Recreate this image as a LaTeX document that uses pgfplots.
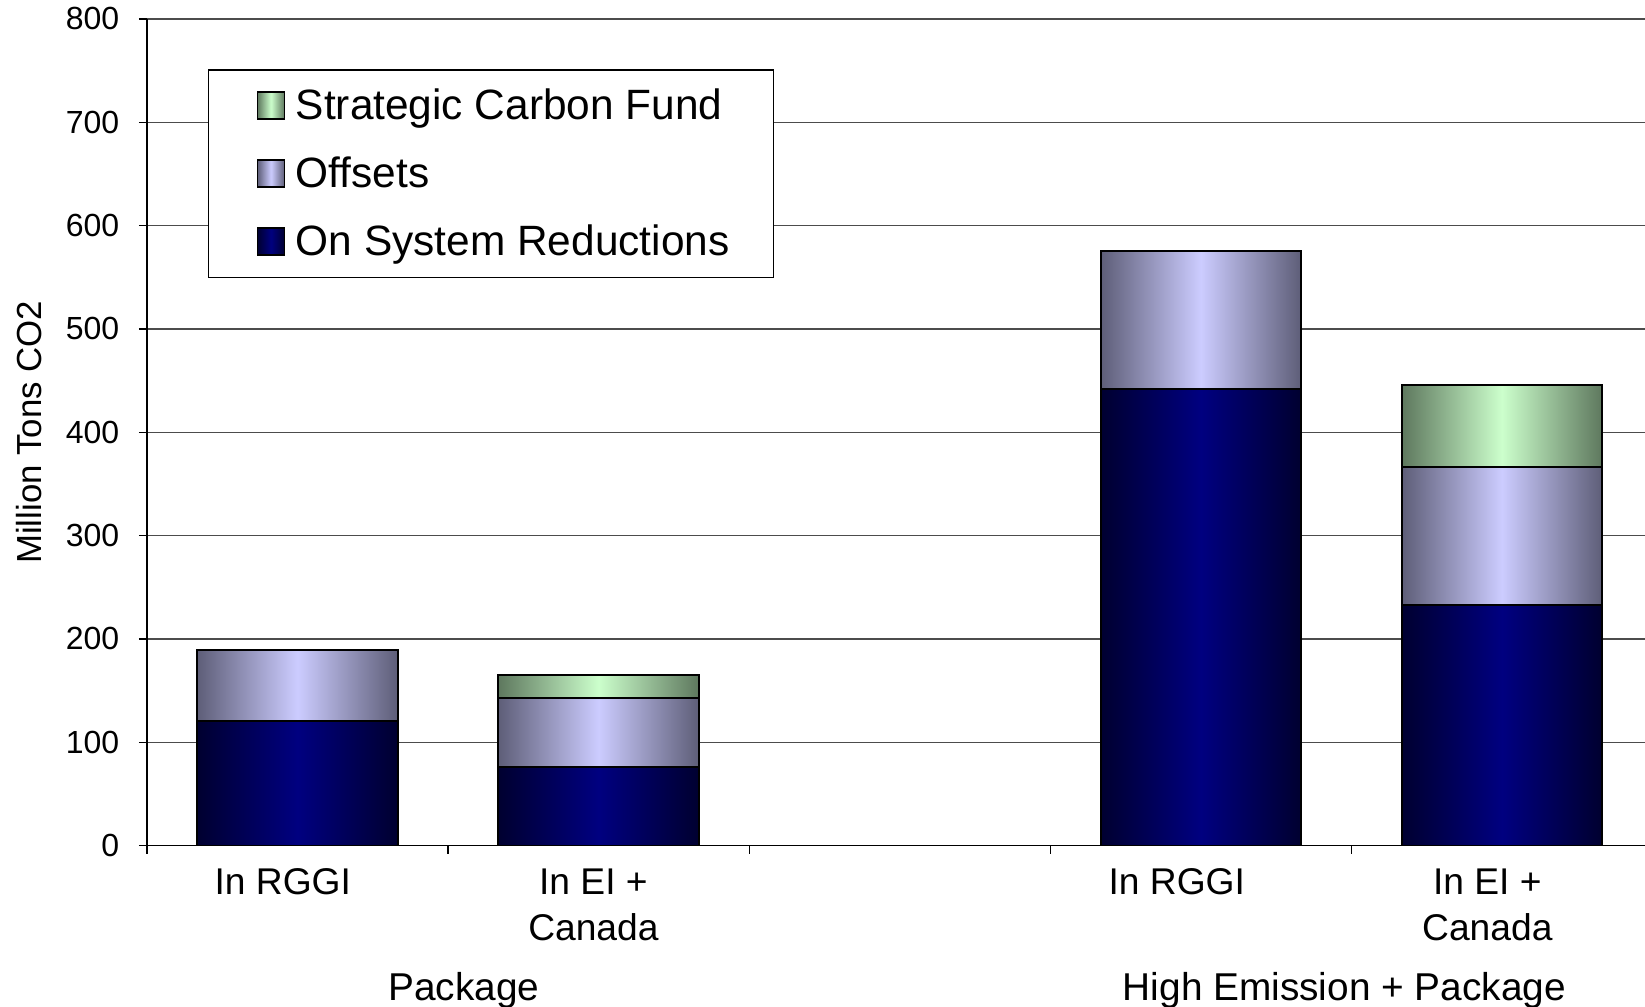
\documentclass[border=0pt]{standalone}
\usepackage{fontspec}
\setmainfont{Liberation Sans}
\usepackage{pgfplots}
\pgfplotsset{compat=1.18}
\definecolor{navyC}{HTML}{000080}
\definecolor{navyE}{HTML}{000030}
\definecolor{offC}{HTML}{CCCCFF}
\definecolor{offE}{HTML}{5E5E78}
\definecolor{scfC}{HTML}{CCFFCC}
\definecolor{scfE}{HTML}{5E785E}
\tikzset{
 onsys/.style={left color=navyE, right color=navyE, middle color=navyC},
 offs/.style={left color=offE, right color=offE, middle color=offC},
 scf/.style={left color=scfE, right color=scfE, middle color=scfC},
}
\begin{document}
\begin{tikzpicture}
\begin{axis}[
 at={(73.45pt,80.7pt)}, anchor=south west,
 scale only axis, width=749.05pt, height=413.35pt,
 xmin=-0.5, xmax=4.475, ymin=0, ymax=800,
 ybar, bar width=0.665,
 axis lines*=left, axis line style={-, line width=0.6pt},
 tick pos=left,
 tick align=outside, major tick length=4pt, tick style={black, line width=0.6pt},
 xtick={-0.5,0.5,1.5,2.5,3.5},
 xticklabels={\hspace*{-14.7pt}In RGGI,{\hspace*{-5.2pt}In EI +\\\hspace*{-5.2pt}Canada},,\hspace*{-24.1pt}In RGGI,{\hspace*{-14.7pt}In EI +\\\hspace*{-14.7pt}Canada}},
 xticklabel style={font=\fontsize{18.6}{23}\selectfont, align=center, xshift=75.3pt, anchor=north, yshift=-4pt},
 ytick={0,100,...,800},
 yticklabel style={font=\fontsize{16}{19}\selectfont, xshift=-6.3pt},
 /pgf/number format/assume math mode=true,
 ymajorgrids, grid style={black!70, line width=0.6pt},
 ylabel={Million Tons CO2},
 ylabel style={font=\fontsize{17.4}{20}\selectfont, at={(axis description cs:-0.0784,0.5)}, anchor=center},
 legend cell align=left,
 legend style={at={(0.0406,0.939)}, anchor=north west, draw=black, line width=0.6pt, fill=white,
   font=\fontsize{21.2}{25}\selectfont, inner xsep=20pt, inner ysep=6.1pt, row sep=10.5pt,
   nodes={text height=16.5pt, text depth=3pt, inner sep=2pt}},
 legend image code/.code={\path (-4.1pt,0pt); \draw[#1, draw=black, line width=0.8pt] (0pt,-6.75pt) rectangle (13.5pt,6.75pt); \path (16.65pt,0pt);},
 every axis plot/.append style={draw=black, line width=1pt, bar shift=0pt},
]
% Package, In RGGI: On System 121, Offsets 68 (cumulative 189)
\addplot[offs, forget plot] coordinates {(0,189)};
\addplot[onsys, forget plot] coordinates {(0,121)};
% Package, In EI + Canada: On System 76, Offsets 67, SCF 22 (cumulative 143, 165)
\addplot[scf, forget plot] coordinates {(1,165)};
\addplot[offs, forget plot] coordinates {(1,143)};
\addplot[onsys, forget plot] coordinates {(1,76)};
% High Emission + Package, In RGGI: On System 442, Offsets 133 (cumulative 575)
\addplot[offs, forget plot] coordinates {(3,575)};
\addplot[onsys, forget plot] coordinates {(3,442)};
% High Emission + Package, In EI + Canada: On System 233, Offsets 133, SCF 80 (cumulative 366, 446)
\addplot[scf, forget plot] coordinates {(4,446)};
\addplot[offs, forget plot] coordinates {(4,366)};
\addplot[onsys, forget plot] coordinates {(4,233)};
\addlegendimage{scf}
\addlegendentry{Strategic Carbon Fund}
\addlegendimage{offs}
\addlegendentry{Offsets}
\addlegendimage{onsys}
\addlegendentry{On System Reductions}
\end{axis}
\node[font=\fontsize{19.4}{23}\selectfont] at (231.85pt,8.4pt) {Package};
\node[font=\fontsize{19.4}{23}\selectfont] at (672.2pt,8.4pt) {High Emission + Package};
\pgfresetboundingbox
\useasboundingbox (0,0) rectangle (822.5pt,503.5pt);
\end{tikzpicture}
\end{document}
